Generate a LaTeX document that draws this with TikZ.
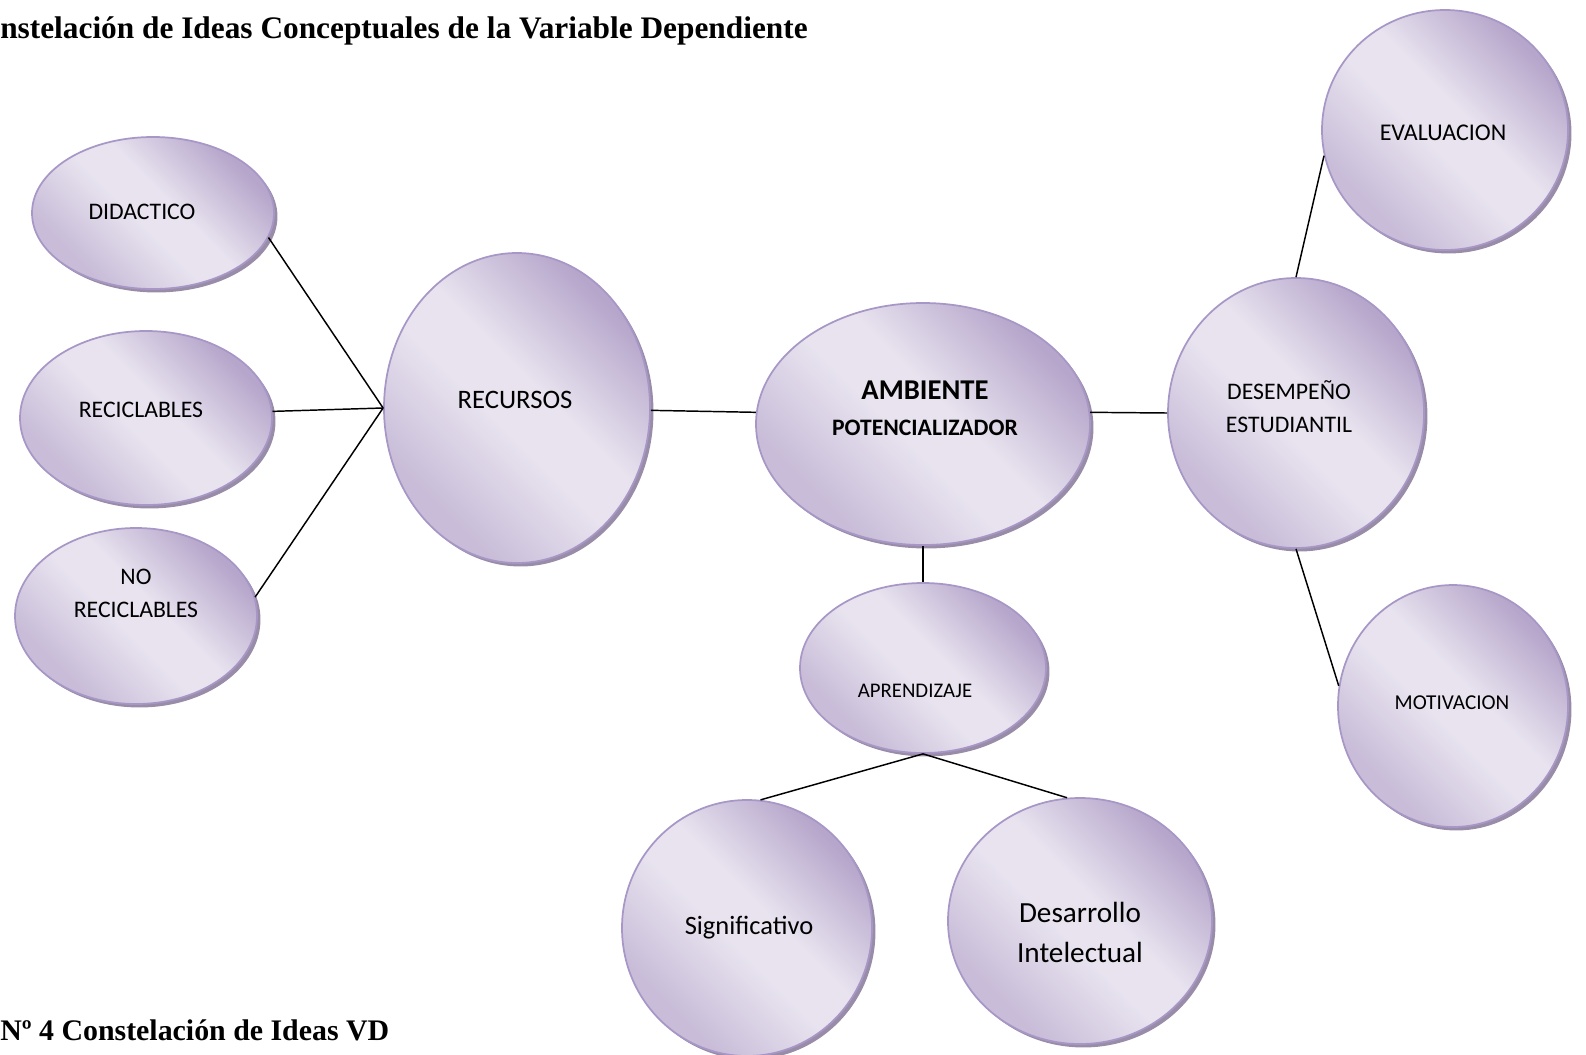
\documentclass[tikz,border=0pt]{standalone}
\usepackage{fontspec}
\setmainfont{Liberation Serif}
\newfontfamily\carl{Carlito}
\usetikzlibrary{shapes.geometric,shadows}
\definecolor{lildark}{HTML}{B6A6CB}
\definecolor{lilmid}{HTML}{C8BCD8}
\definecolor{lillight}{HTML}{E8E3EF}
\definecolor{lilborder}{HTML}{A797C6}
\definecolor{lilshadow}{HTML}{8E809E}
\pgfdeclareverticalshading{bubshade}{100bp}{color(0bp)=(lilmid); color(28bp)=(lilmid); color(46bp)=(lillight); color(55bp)=(lillight); color(74bp)=(lildark); color(100bp)=(lildark)}
\tikzset{
  bsize/.style 2 args={minimum width=#1*0.75pt, minimum height=#2*0.75pt},
  bubble/.style={ellipse, inner sep=0pt, draw=lilborder, line width=1.3pt,
    shading=bubshade, shading angle=-45,
    drop shadow={shadow xshift=2.6pt, shadow yshift=-2.6pt, fill=lilshadow, opacity=0.9}},
  txt/.style={font=\carl\fontsize{17.8}{24.75}\selectfont, align=center, inner sep=0pt, text=black},
  link/.style={line width=1.1pt, black},
  ttl/.style={font=\bfseries\fontsize{23.2}{28}\selectfont, inner sep=0pt, anchor=base west}
}
\begin{document}
\begin{tikzpicture}[x=0.75pt,y=-0.75pt]
\useasboundingbox (0,0) rectangle (1586,1054);
% bubbles
\node[bubble, bsize={242}{152}] (did) at (153,213) {};
\node[bubble, bsize={252}{174}] (recic) at (146,418) {};
\node[bubble, bsize={242}{176}] (norec) at (136,616) {};
\node[bubble, bsize={266}{310}] (rec) at (517,408) {};
\node[bubble, bsize={334}{242}] (amb) at (923,424) {};
\node[bubble, bsize={256}{270}] (des) at (1296,413) {};
\node[bubble, bsize={246}{240}] (eval) at (1445,130) {};
\node[bubble, bsize={230}{242}] (mot) at (1453,706) {};
\node[bubble, bsize={246}{170}] (apr) at (923,668) {};
\node[bubble, bsize={250}{256}] (sig) at (747,928) {};
\node[bubble, bsize={264}{246}] (desa) at (1080,921) {};
% texts
\node[txt] (tdid) at (142,212) {DIDACTICO};
\node[txt] (trecic) at (141,410) {RECICLABLES};
\node[txt] (tnorec) at (136,593) {NO\\RECICLABLES};
\node[txt, font=\carl\fontsize{20}{24}\selectfont] (trec) at (515,400) {RECURSOS};
\node[txt, font=\carl\bfseries\fontsize{21.5}{26}\selectfont] (tamb1) at (925,390) {AMBIENTE};
\node[txt, font=\carl\bfseries\fontsize{17.7}{24}\selectfont] (tamb2) at (925,428) {POTENCIALIZADOR};
\node[txt] (tdes) at (1289,407) {DESEMPEÑO\\ESTUDIANTIL};
\node[txt, font=\carl\fontsize{18}{24}\selectfont] (teval) at (1443,133) {EVALUACION};
\node[txt, font=\carl\fontsize{15.9}{20}\selectfont] (tmot) at (1452,703) {MOTIVACION};
\node[txt, font=\carl\fontsize{15.6}{20}\selectfont] (tapr) at (915,691) {APRENDIZAJE};
\node[txt, font=\carl\fontsize{19.85}{24}\selectfont] (tsig) at (749,928) {Significativo};
\node[txt, font=\carl\fontsize{21.9}{30}\selectfont] (tdesa) at (1080,932) {Desarrollo\\Intelectual};
% titles
\node[ttl, font=\bfseries\fontsize{23.5}{28}\selectfont] (title) at (0,38) {nstelación de Ideas Conceptuales de la Variable Dependiente};
\node[ttl, font=\bfseries\fontsize{22.4}{28}\selectfont] (caption) at (0,1040) {Nº 4 Constelación de Ideas VD};
% links
\draw[link] (did.-12) -- (rec.west);
\draw[link] (recic.3) -- (rec.west);
\draw[link] (norec.9) -- (rec.west);
\draw[link] (rec.-1) -- (amb.176);
\draw[link] (amb.4) -- (des.west);
\draw[link] (des.north) -- (eval.192);
\draw[link] (des.south) -- (mot.170);
\draw[link] (amb.south) -- (apr.north);
\draw[link] (apr.south) -- (sig.84);
\draw[link] (apr.south) -- (desa.96);
\end{tikzpicture}
\end{document}
